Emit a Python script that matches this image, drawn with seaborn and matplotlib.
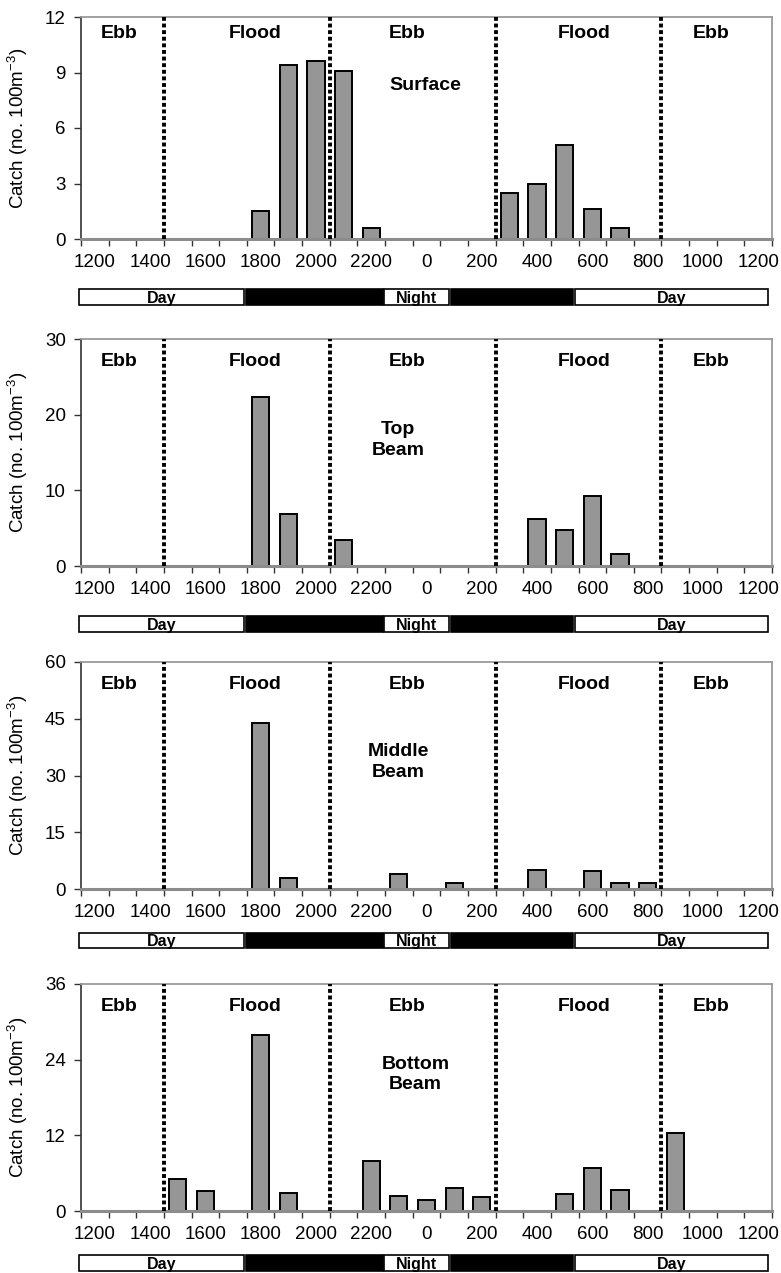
import matplotlib
matplotlib.use("Agg")
import matplotlib.pyplot as plt
import seaborn as sns
import pandas as pd
from matplotlib.patches import Rectangle
from matplotlib.ticker import FixedLocator

sns.set_style("white")
plt.rcParams['font.family'] = ['Liberation Sans', 'DejaVu Sans']
plt.rcParams['mathtext.fontset'] = 'custom'
plt.rcParams['mathtext.rm'] = 'Liberation Sans'
plt.rcParams['mathtext.it'] = 'Liberation Sans:italic'
plt.rcParams['text.color'] = 'black'
plt.rcParams['axes.labelcolor'] = 'black'
plt.rcParams['xtick.color'] = 'black'
plt.rcParams['ytick.color'] = 'black'

# ---- data ----
HOURS = [1200, 1300, 1400, 1500, 1600, 1700, 1800, 1900, 2000, 2100, 2200, 2300,
         0, 100, 200, 300, 400, 500, 600, 700, 800, 900, 1000, 1100, 1200]
TICK_LABELS = ["1200", "1400", "1600", "1800", "2000", "2200", "0",
               "200", "400", "600", "800", "1000", "1200"]

surface_times = [1800, 1900, 2000, 2100, 2200, 300, 400, 500, 600, 700]
surface_vals = [1.5, 9.4, 9.6, 9.1, 0.6, 2.5, 3.0, 5.1, 1.6, 0.6]

top_times = [1800, 1900, 2100, 400, 500, 600, 700]
top_vals = [22.3, 6.9, 3.5, 6.2, 4.8, 9.3, 1.65]

middle_times = [1800, 1900, 2300, 100, 400, 600, 700, 800]
middle_vals = [43.8, 2.8, 3.9, 1.7, 4.9, 4.7, 1.6, 1.7]

bottom_times = [1500, 1600, 1800, 1900, 2200, 2300, 0, 100, 200, 500, 600, 700, 900]
bottom_vals = [5.0, 3.2, 27.9, 2.8, 8.0, 2.3, 1.75, 3.6, 2.2, 2.7, 6.8, 3.3, 12.3]

PANEL_NAMES = ["Surface", "Top\nBeam", "Middle\nBeam", "Bottom\nBeam"]
Y_MAX = [12, 30, 60, 36]
Y_TICKS = [[0, 3, 6, 9, 12], [0, 10, 20, 30], [0, 15, 30, 45, 60], [0, 12, 24, 36]]

TIDE_LABELS = ["Ebb", "Flood", "Ebb", "Flood", "Ebb"]
TIDE_CHANGE_EDGES = [3, 9, 15, 21]          # between hourly bins
DAYNIGHT_LABELS = ["Day", "", "Night", "", "Day"]
DAYNIGHT_COLORS = ["white", "black", "white", "black", "white"]

panels = [(surface_times, surface_vals), (top_times, top_vals),
          (middle_times, middle_vals), (bottom_times, bottom_vals)]

# ---- layout (pixels) ----
W, H = 781, 1273
ax_left, ax_right = 81, 772
panel_px = [(17, 239), (339, 566), (662, 889), (984, 1211)]
dn_px = [(288, 306), (615, 633), (932, 949), (1254, 1272)]
tide_x = [0.89, 5.80, 11.29, 17.70, 22.29]
tide_y = [0.925, 0.90, 0.90, 0.90]
name_pos = [(11.94, 0.69), (10.97, 0.555), (10.97, 0.56), (11.6, 0.60)]
dn_segments = [(-0.57, 5.4), (5.47, 10.43), (10.46, 12.81), (12.89, 17.3), (17.37, 24.36)]

fig = plt.figure(figsize=(W / 100, H / 100), dpi=100)

def pos_of(t):
    return HOURS.index(t)

for i, ((times, vals), (top, bot), (dtop, dbot)) in enumerate(zip(panels, panel_px, dn_px)):
    ax = fig.add_axes([ax_left / W, 1 - bot / H, (ax_right - ax_left) / W, (bot - top) / H])
    df = pd.DataFrame({"pos": [pos_of(t) for t in times], "catch": vals})
    sns.barplot(data=df, x="pos", y="catch", order=list(range(len(HOURS))), ax=ax,
                color="#969696", saturation=1, edgecolor="black", linewidth=1.4,
                width=0.62, errorbar=None)
    ax.set_xlim(-0.5, len(HOURS) - 0.5)
    ax.set_ylim(0, Y_MAX[i])
    ax.set_yticks(Y_TICKS[i])
    ax.set_yticklabels([str(v) for v in Y_TICKS[i]])
    ax.set_xticks(list(range(0, len(HOURS), 2)))
    ax.set_xticklabels(TICK_LABELS)
    ax.xaxis.set_minor_locator(FixedLocator([k - 0.5 for k in range(len(HOURS) + 1)]))
    ax.tick_params(axis="x", which="major", length=0, pad=11, labelsize=13.5, colors="black")
    ax.tick_params(axis="x", which="minor", length=5, width=1, color="#333333", direction="out", bottom=True)
    ax.tick_params(axis="y", which="major", length=5, width=1, color="#333333", direction="out",
                   pad=6, labelsize=13.5, left=True, labelcolor="black")
    ax.set_xlabel("")
    ax.set_ylabel("Catch (no. 100m$^{\\mathregular{-3}}$)", fontsize=13.5, color="black")
    ax.yaxis.set_label_coords(-0.074, 0.5)
    for s in ["top", "right"]:
        ax.spines[s].set_color("#9a9a9a")
        ax.spines[s].set_linewidth(1.3)
    ax.spines["left"].set_color("#333333")
    ax.spines["left"].set_linewidth(1.2)
    ax.spines["bottom"].set_color("#8c8c8c")
    ax.spines["bottom"].set_linewidth(2.2)
    for e in TIDE_CHANGE_EDGES:
        ax.axvline(e - 0.5, color="black", linewidth=2.8, linestyle=(0, (1.0, 0.7)), zorder=3)
    for lab, x in zip(TIDE_LABELS, tide_x):
        ax.text(x, tide_y[i], lab, transform=ax.get_xaxis_transform(), ha="center", va="center",
                fontsize=14, fontweight="bold", color="black")
    nx, ny = name_pos[i]
    ax.text(nx, ny, PANEL_NAMES[i], transform=ax.get_xaxis_transform(), ha="center", va="center",
            fontsize=14, fontweight="bold", linespacing=1.25, color="black")

    # day / night bar
    dax = fig.add_axes([ax_left / W, 1 - dbot / H, (ax_right - ax_left) / W, (dbot - dtop) / H])
    dax.set_xlim(-0.5, len(HOURS) - 0.5)
    dax.set_ylim(0, 1)
    dax.axis("off")
    for (x0, x1), lab, col in zip(dn_segments, DAYNIGHT_LABELS, DAYNIGHT_COLORS):
        dax.add_patch(Rectangle((x0, 0.03), x1 - x0, 0.94, facecolor=col, edgecolor="black",
                                linewidth=1.2, clip_on=False))
        if lab:
            dax.text((x0 + x1) / 2, 0.42, lab, ha="center", va="center", fontsize=11.5,
                     fontweight="bold", color="black")

fig.savefig("out.png", dpi=100)
